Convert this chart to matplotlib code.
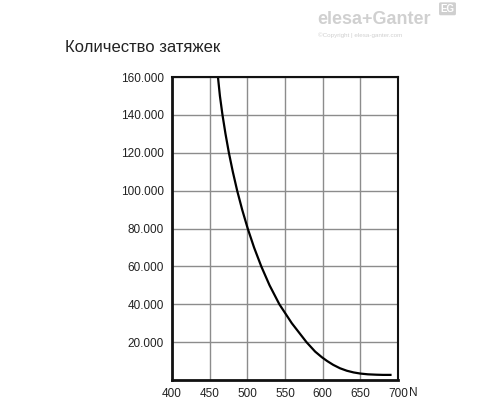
import matplotlib.pyplot as plt

plt.rcParams['font.family'] = ['Liberation Sans', 'DejaVu Sans']

# curve (force in N vs number of tightenings)
force_n = [461, 463.6, 467, 471, 475.5, 480.7, 486.5, 493.1, 500.5, 508.9,
           518.5, 529.5, 542.5, 559, 578.5, 590, 599, 606, 614, 623, 632,
           641, 650, 660, 671, 680, 690]
tightenings = [160000, 150000, 140000, 130000, 120000, 110000, 100000,
               90000, 80000, 70000, 60000, 50000, 40000, 30000, 20000,
               15000, 12000, 10000, 8000, 6200, 4900, 4000, 3400, 3000,
               2800, 2700, 2700]

x_ticks = [400, 450, 500, 550, 600, 650, 700]
y_ticks = [20000, 40000, 60000, 80000, 100000, 120000, 140000, 160000]
y_labels = ["20.000", "40.000", "60.000", "80.000", "100.000", "120.000",
            "140.000", "160.000"]

fig = plt.figure(figsize=(5, 4), dpi=100)
ax = fig.add_axes([0.344, 0.05, 0.452, 0.7575])

ax.plot(force_n, tightenings, color="black", lw=1.6, solid_joinstyle="round")

ax.set_xlim(400, 700)
ax.set_ylim(0, 160000)
ax.set_xticks(x_ticks)
ax.set_xticklabels([str(v) for v in x_ticks])
ax.set_yticks(y_ticks)
ax.set_yticklabels(y_labels)
ax.tick_params(length=0, labelsize=8.5, colors="#222222", pad=6)
ax.tick_params(axis="x", pad=6)
ax.grid(True, color="#8c8c8c", lw=1.0)
ax.set_axisbelow(True)
for s in ax.spines.values():
    s.set_color("#111111")
    s.set_linewidth(1.5)
ax.spines["left"].set_linewidth(2)
ax.spines["bottom"].set_linewidth(2)

# unit after the last x tick label
ax.annotate("N", xy=(700, 0), xycoords="data", xytext=(11, -13),
            textcoords="offset pixels", ha="left", va="center",
            fontsize=8.5, color="#222222", annotation_clip=False)

fig.text(0.13, 0.88, "Количество затяжек", fontsize=12, color="#222222",
         ha="left", va="center")

# watermark
fig.text(0.635, 0.95, "elesa+Ganter", fontsize=13, color="#d0d0d0",
         ha="left", va="center", fontweight="bold")
fig.text(0.635, 0.912, "©Copyright | elesa-ganter.com", fontsize=4.5,
         color="#d0d0d0", ha="left", va="center")
fig.text(0.895, 0.978, "EG", fontsize=7, color="white", ha="center",
         va="center", fontweight="bold",
         bbox=dict(boxstyle="round,pad=0.15", fc="#cfcfcf", ec="none"))

fig.savefig("out.png", dpi=100)
